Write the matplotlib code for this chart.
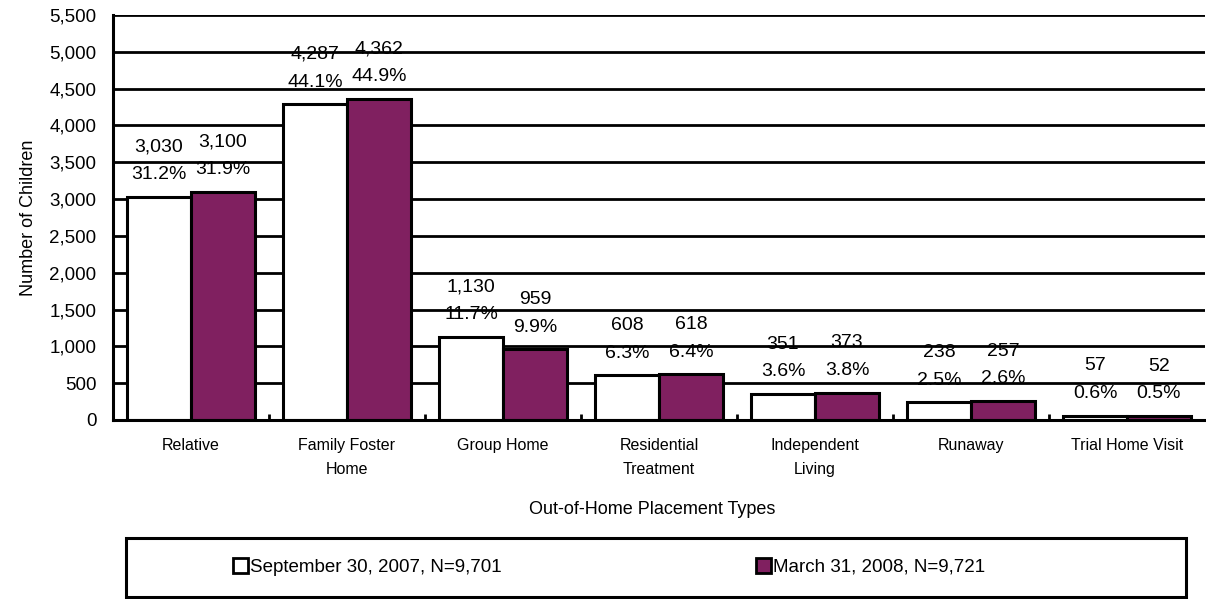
import numpy as np
import matplotlib
matplotlib.use('Agg')
import matplotlib.pyplot as plt
from matplotlib.patches import Rectangle, Patch
from matplotlib.ticker import FuncFormatter, MultipleLocator

# =====================================
# Data
# =====================================
categories = ['Relative', 'Family Foster\nHome', 'Group Home', 'Residential\nTreatment',
              'Independent\nLiving', 'Runaway', 'Trial Home Visit']
sep_2007 = [3030, 4287, 1130, 608, 351, 238, 57]
mar_2008 = [3100, 4362, 959, 618, 373, 257, 52]
sep_pct = [31.2, 44.1, 11.7, 6.3, 3.6, 2.5, 0.6]
mar_pct = [31.9, 44.9, 9.9, 6.4, 3.8, 2.6, 0.5]
series_labels = ['September 30, 2007, N=9,701', 'March 31, 2008, N=9,721']

plt.rcParams['font.family'] = ['Liberation Sans', 'DejaVu Sans']

purple = '#802060'

# =====================================
# Figure
# =====================================
fig = plt.figure(figsize=(12.06, 5.99), dpi=100)
ax = fig.add_axes([113 / 1206, 1 - 420 / 599, 1092 / 1206, 405 / 599])

x = np.arange(len(categories))
w = 0.41

# horizontal grid drawn above the labels but below the bars
for yv in np.arange(500, 5501, 500):
    ax.axhline(yv, color='black', linewidth=2, zorder=1.5)

b1 = ax.bar(x - w / 2, sep_2007, width=w, color='white', edgecolor='black',
            linewidth=2.2, zorder=2)
b2 = ax.bar(x + w / 2, mar_2008, width=w, color=purple, edgecolor='black',
            linewidth=2.2, zorder=2)

for bars, vals, pcts in [(b1, sep_2007, sep_pct), (b2, mar_2008, mar_pct)]:
    for bar, v, p in zip(bars, vals, pcts):
        cx = bar.get_x() + bar.get_width() / 2
        ax.annotate(f'{v:,}', (cx, v), xytext=(0, 36), textcoords='offset points',
                    ha='center', va='center', fontsize=14, zorder=1)
        ax.annotate(f'{p:.1f}%', (cx, v), xytext=(0, 16), textcoords='offset points',
                    ha='center', va='center', fontsize=14, zorder=1)

ax.set_xlim(-0.5, len(categories) - 0.5)
ax.set_ylim(0, 5500)
ax.yaxis.set_major_locator(MultipleLocator(500))
ax.yaxis.set_major_formatter(FuncFormatter(lambda v, _: f'{int(v):,}'))
ax.tick_params(axis='y', labelsize=13.5, length=0, pad=12)

ax.set_xticks(x)
ax.set_xticklabels(categories, fontsize=11.5, linespacing=1.75)
ax.set_xticks(np.arange(0.5, len(categories) - 0.5, 1), minor=True)
ax.tick_params(axis='x', which='major', length=0, pad=13)
ax.tick_params(axis='x', which='minor', direction='in', length=4, width=2)

for s in ['top', 'right']:
    ax.spines[s].set_visible(False)
ax.spines['left'].set_linewidth(2.2)
ax.spines['bottom'].set_linewidth(2.2)

ax.set_ylabel('Number of Children', fontsize=13, labelpad=9)
fig.text(0.5405, 1 - 510 / 599, 'Out-of-Home Placement Types', fontsize=13,
         ha='center', va='center')

# =====================================
# Legend
# =====================================
fig.patches.append(Rectangle((126 / 1206, 2 / 599), 1060 / 1206, 59 / 599,
                             transform=fig.transFigure, facecolor='white',
                             edgecolor='black', linewidth=2.2))
handles = [Patch(facecolor='white', edgecolor='black', linewidth=2),
           Patch(facecolor=purple, edgecolor='black', linewidth=2)]
fig.legend(handles, series_labels, loc='center', ncol=2,
           bbox_to_anchor=(0.505, 1 - 567 / 599), frameon=False, fontsize=13.5,
           handlelength=0.8, handleheight=0.8, handletextpad=0.1,
           columnspacing=13.6)

plt.savefig('out.png', dpi=100)
